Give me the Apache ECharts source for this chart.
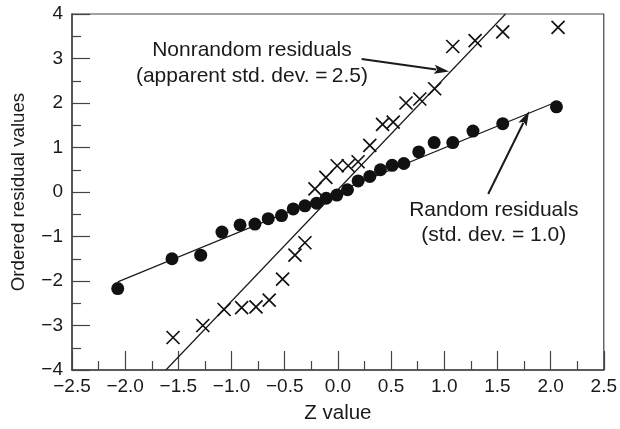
<!DOCTYPE html>
<html><head><meta charset="utf-8">
<script src="https://cdn.jsdelivr.net/npm/echarts@6/dist/echarts.min.js"></script>
<style>html,body{margin:0;padding:0;background:#fff}#c{width:620px;height:429px}</style>
</head><body><div id="c"></div>
<script>
// ---- data ----
const zRandom = [-2.07,-1.56,-1.29,-1.09,-0.92,-0.78,-0.655,-0.53,-0.42,-0.31,-0.20,-0.11,-0.01,0.09,0.19,0.30,0.40,0.51,0.62,0.76,0.905,1.08,1.27,1.55,2.055];
const randomValues = [-2.17,-1.50,-1.42,-0.90,-0.74,-0.72,-0.60,-0.53,-0.38,-0.31,-0.25,-0.14,-0.07,0.05,0.25,0.35,0.50,0.60,0.64,0.90,1.11,1.11,1.37,1.535,1.915];
const zNonrandom = [-1.55,-1.27,-1.07,-0.905,-0.77,-0.646,-0.52,-0.404,-0.31,-0.216,-0.113,-0.007,0.097,0.19,0.30,0.42,0.52,0.64,0.77,0.91,1.08,1.29,1.55,2.07];
const nonrandomValues = [-3.27,-3.0,-2.64,-2.60,-2.58,-2.43,-1.96,-1.42,-1.14,0.07,0.33,0.59,0.59,0.68,1.05,1.52,1.57,2.0,2.09,2.32,3.27,3.40,3.60,3.70];
const randomLineZ = [-2.07, 2.03];
const randomLineV = [-2.02, 2.0];
const nonrandomLineZ = [-1.617, 1.576];
const nonrandomLineV = [-4, 4];
const xTickLabels = ['\u22122.5','\u22122.0','\u22121.5','\u22121.0','\u22120.5','0.0','0.5','1.0','1.5','2.0','2.5'];
const yTickLabels = ['\u22124','\u22123','\u22122','\u22121','0','1','2','3','4'];
const xName = 'Z value';
const yName = 'Ordered residual values';
const nonrandomText = ['Nonrandom residuals','(apparent std. dev. =\u20092.5)'];
const randomText = ['Random residuals','(std. dev. = 1.0)'];

// ---- layout / annotation anchors (data space) ----
const ann = {
  nonrandomTextAt: [-0.808, 2.894],
  randomTextAt: [1.466, -0.70],
  nonrandomArrow: [[0.223, 2.99],[1.046, 2.71]],
  randomArrow: [[1.413, -0.045],[1.798, 1.817]]
};

const FONT = '"Liberation Sans", Arial, Helvetica, sans-serif';
const INK = '#1a1a1a';
const chart = echarts.init(document.getElementById('c'), null, {renderer:'canvas'});
const pair = (a,b) => a.map((v,i)=>[v,b[i]]);

chart.setOption({
  animation: false,
  backgroundColor: '#fff',
  grid: {left:72, right:16, top:14, bottom:57, show:true, borderColor:'#444', borderWidth:1.2},
  xAxis: {
    type:'value', min:-2.5, max:2.5, interval:0.5,
    axisLine:{onZero:false, lineStyle:{color:'#444', width:1.5}},
    axisTick:{inside:true, length:19, lineStyle:{color:'#444', width:1.2}},
    minorTick:{show:true, splitNumber:2, length:9, lineStyle:{color:'#444', width:1.2}},
    splitLine:{show:false},
    axisLabel:{color:INK, fontFamily:FONT, fontSize:19, margin:7,
      formatter:(v)=>xTickLabels[Math.round((v+2.5)/0.5)]},
    name:xName, nameLocation:'middle', nameGap:33,
    nameTextStyle:{color:INK, fontFamily:FONT, fontSize:20.5}
  },
  yAxis: {
    type:'value', min:-4, max:4, interval:1,
    axisLine:{onZero:false, lineStyle:{color:'#444', width:1.5}},
    axisTick:{inside:true, length:18, lineStyle:{color:'#444', width:1.2}},
    minorTick:{show:true, splitNumber:2, length:9, lineStyle:{color:'#444', width:1.2}},
    splitLine:{show:false},
    axisLabel:{color:INK, fontFamily:FONT, fontSize:19, margin:9,
      formatter:(v)=>yTickLabels[Math.round(v+4)]},
    name:yName, nameLocation:'middle', nameGap:44,
    nameTextStyle:{color:INK, fontFamily:FONT, fontSize:18.7}
  },
  series: [
    {type:'line', data:pair(randomLineZ, randomLineV), symbol:'none',
      lineStyle:{color:INK, width:1.2}, silent:true, z:2},
    {type:'line', data:pair(nonrandomLineZ, nonrandomLineV), symbol:'none',
      lineStyle:{color:INK, width:1.2}, silent:true, z:2},
    {type:'scatter', data:pair(zRandom, randomValues), symbol:'circle', symbolSize:13,
      itemStyle:{color:'#111', opacity:1}, z:3},
    {type:'scatter', data:pair(zNonrandom, nonrandomValues),
      symbol:'path://M0,0L10,10M10,0L0,10', symbolSize:13,
      itemStyle:{color:'rgba(0,0,0,0)', borderColor:'#111', borderWidth:1.7, opacity:1}, z:3}
  ]
});

function arrow(a){
  const p0 = chart.convertToPixel({gridIndex:0}, a[0]);
  const p1 = chart.convertToPixel({gridIndex:0}, a[1]);
  const dx = p1[0]-p0[0], dy = p1[1]-p0[1];
  const L = Math.hypot(dx,dy), ux = dx/L, uy = dy/L;
  const hl = 15, hw = 4.5;
  const bx = p1[0]-ux*hl, by = p1[1]-uy*hl;
  return [
    {type:'line', shape:{x1:p0[0], y1:p0[1], x2:bx+ux*2, y2:by+uy*2}, style:{stroke:INK, lineWidth:2}, z:10},
    {type:'polygon', shape:{points:[[p1[0],p1[1]],[bx-uy*hw, by+ux*hw],[bx+ux*3, by+uy*3],[bx+uy*hw, by-ux*hw]]}, style:{fill:INK}, z:10}
  ];
}
function label(lines, at, lh){
  const p = chart.convertToPixel({gridIndex:0}, at);
  return {type:'text', x:p[0], y:p[1], z:10, style:{text:lines.join('\n'), fill:INK,
    font:'21px ' + FONT, align:'center', verticalAlign:'middle', lineHeight:lh}};
}
chart.setOption({graphic:{elements:[
  label(nonrandomText, ann.nonrandomTextAt, 26),
  label(randomText, ann.randomTextAt, 25),
  ...arrow(ann.nonrandomArrow),
  ...arrow(ann.randomArrow)
]}});
</script></body></html>
